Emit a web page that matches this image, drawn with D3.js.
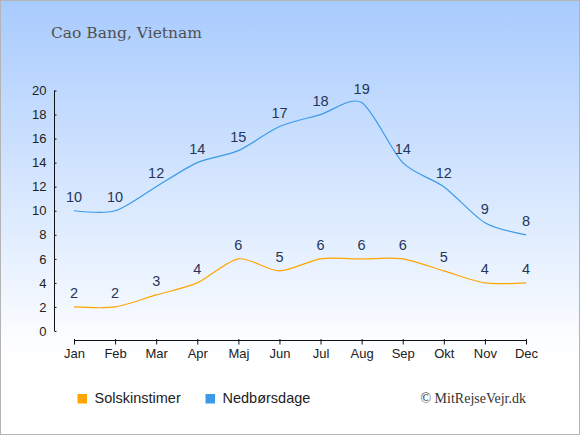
<!DOCTYPE html>
<html lang="da">
<head>
    <meta charset="UTF-8">
    <title>Cao Bang, Vietnam</title>
    <script src="https://d3js.org/d3.v7.min.js"></script>
    <style>
        body { margin: 0; padding: 0; background: #fff; }
        svg { display: block; }
        .tick text { font-family: "Liberation Sans", Arial, sans-serif; font-size: 13px; fill: #222; }
    </style>
</head>
<body>
<svg id="chart"></svg>
<script>
    const months = ["Jan", "Feb", "Mar", "Apr", "Maj", "Jun", "Jul", "Aug", "Sep", "Okt", "Nov", "Dec"];
    const sunHours = [2, 2, 3, 4, 6, 5, 6, 6, 6, 5, 4, 4];
    const rainDays = [10, 10, 12, 14, 15, 17, 18, 19, 14, 12, 9, 8];
    const yTicks = [0, 2, 4, 6, 8, 10, 12, 14, 16, 18, 20];
    const seriesNames = ["Solskinstimer", "Nedbørsdage"];
    const seriesColors = ["#ffa500", "#3a9ae8"];

    const W = 580, H = 435;
    const svg = d3.select("#chart").attr("width", W).attr("height", H);

    // background gradient
    const grad = svg.append("defs").append("linearGradient")
        .attr("id", "bg").attr("x1", 0).attr("y1", 0).attr("x2", 0).attr("y2", 1);
    grad.append("stop").attr("offset", "0%").attr("stop-color", "#a8cbfe");
    grad.append("stop").attr("offset", "82%").attr("stop-color", "#ffffff");
    grad.append("stop").attr("offset", "100%").attr("stop-color", "#ffffff");
    svg.append("rect").attr("x", 0.5).attr("y", 0.5).attr("width", W - 1).attr("height", H - 1)
        .attr("fill", "url(#bg)").attr("stroke", "#b4b4b4").attr("stroke-width", 1);

    svg.append("text")
        .attr("x", 51).attr("y", 38)
        .style("font-family", "'DejaVu Serif', serif")
        .style("font-size", "15.5px")
        .style("fill", "#505050")
        .text("Cao Bang, Vietnam");

    const x = d3.scalePoint().domain(months).range([74, 526]);
    const y = d3.scaleLinear().domain([0, 20]).range([331, 90.5]);

    const xAxis = svg.append("g")
        .attr("transform", "translate(0,340.5)")
        .call(d3.axisBottom(x).tickSizeInner(4).tickSizeOuter(0).tickPadding(4));
    xAxis.select(".domain").attr("d", `M${x("Jan")},0H${x("Dec")}`).attr("stroke", "#111");
    xAxis.selectAll(".tick line").attr("y1", -1.5).attr("stroke", "#111");

    const yAxis = svg.append("g")
        .attr("transform", "translate(54.5,0)")
        .call(d3.axisLeft(y).tickValues(yTicks).tickSizeInner(3).tickSizeOuter(0).tickPadding(5));
    yAxis.select(".domain").attr("d", `M0,${y(20)}V${y(0)}`).attr("stroke", "#111");
    yAxis.selectAll(".tick line").attr("x2", 2).attr("stroke", "#111");

    const line = d3.line()
        .x((d, i) => x(months[i]))
        .y(d => y(d))
        .curve(d3.curveCardinal.tension(0.2));

    [sunHours, rainDays].forEach((vals, k) => {
        svg.append("path")
            .datum(vals)
            .attr("fill", "none")
            .attr("stroke", seriesColors[k])
            .attr("stroke-width", 1.2)
            .attr("d", line);

        svg.append("g").selectAll("text")
            .data(vals)
            .enter().append("text")
            .attr("x", (d, i) => x(months[i]))
            .attr("y", d => y(d) - 9)
            .attr("text-anchor", "middle")
            .style("font-family", "'Liberation Sans', Arial, sans-serif")
            .style("font-size", "14.5px")
            .style("fill", "#26365a")
            .text(d => d);
    });

    // legend
    const legendX = [77.5, 205.5];
    seriesNames.forEach((name, k) => {
        svg.append("rect")
            .attr("x", legendX[k]).attr("y", 394)
            .attr("width", 9.5).attr("height", 9.5)
            .attr("fill", seriesColors[k]);
        svg.append("text")
            .attr("x", legendX[k] + 17).attr("y", 403)
            .style("font-family", "'Liberation Sans', Arial, sans-serif")
            .style("font-size", "14.5px")
            .style("fill", "#222")
            .text(name);
    });

    svg.append("text")
        .attr("x", 526).attr("y", 403)
        .attr("text-anchor", "end")
        .style("font-family", "'Liberation Serif', 'Times New Roman', serif")
        .style("font-size", "14px")
        .style("fill", "#333")
        .text("© MitRejseVejr.dk");
</script>
</body>
</html>
